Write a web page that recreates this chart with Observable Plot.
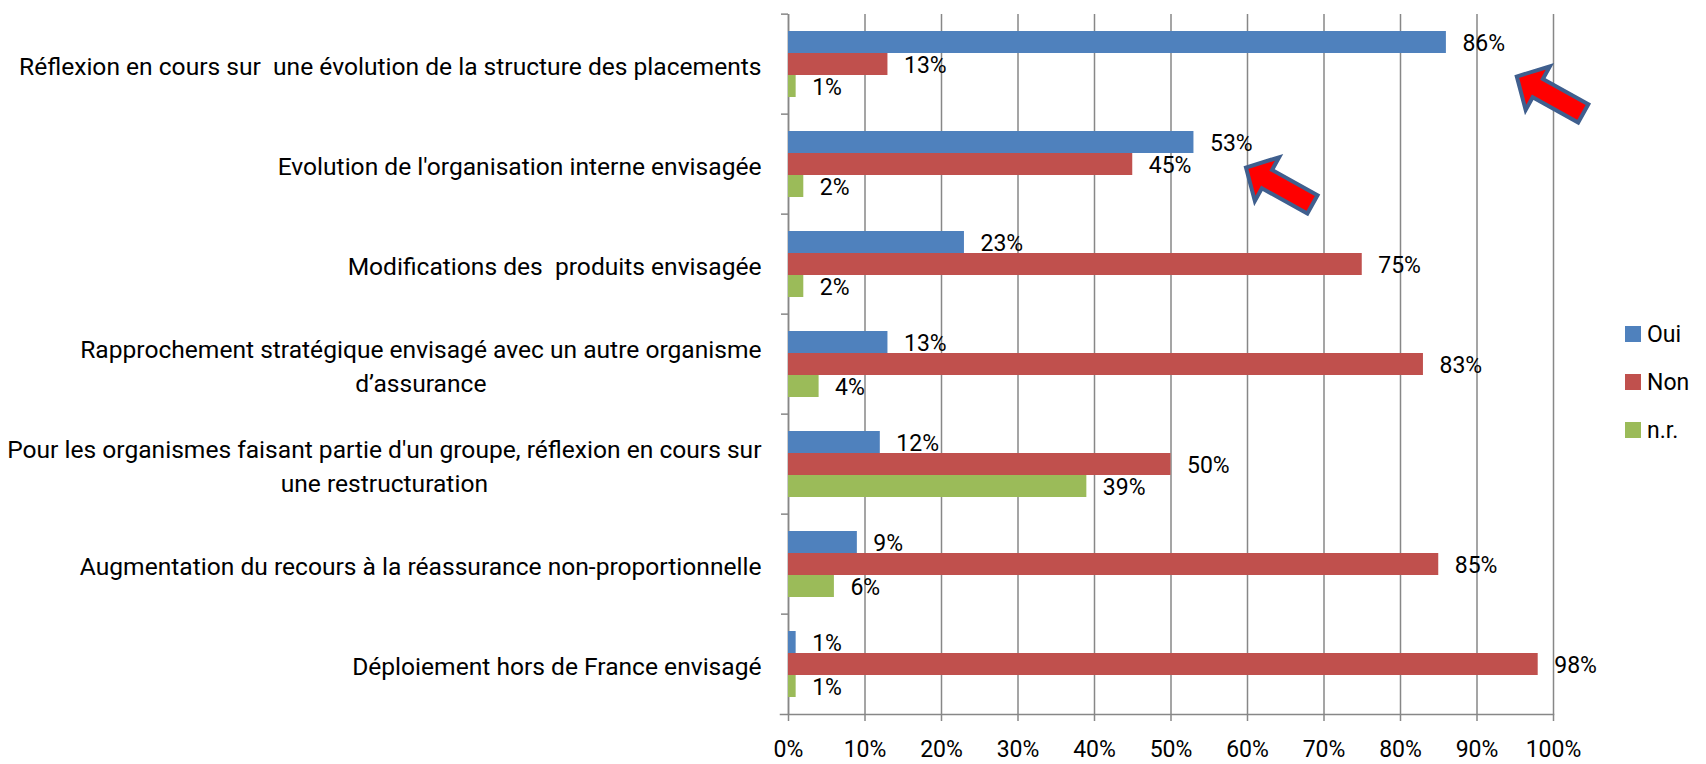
<!DOCTYPE html>
<html><head><meta charset="utf-8">
<script src="https://cdn.jsdelivr.net/npm/d3@7"></script>
<script src="https://cdn.jsdelivr.net/npm/@observablehq/plot@0.6"></script>
<style>
html,body{margin:0;padding:0;background:#fff;}
#wrap{position:relative;width:1706px;height:764px;overflow:hidden;}
#legend{position:absolute;left:1625px;top:310px;color:#000;}
.item{display:flex;align-items:center;height:48px;}
.sw{width:16px;height:16px;margin-right:6px;flex:none;}
</style></head><body><div id="wrap"><div id="legend"></div></div>
<script>
// ---- data ----
const categories = [
  "Réflexion en cours sur  une évolution de la structure des placements",
  "Evolution de l'organisation interne envisagée",
  "Modifications des  produits envisagée",
  "Rapprochement stratégique envisagé avec un autre organisme d’assurance",
  "Pour les organismes faisant partie d'un groupe, réflexion en cours sur une restructuration",
  "Augmentation du recours à la réassurance non-proportionnelle",
  "Déploiement hors de France envisagé"
];
const categoryLabels = [
  "Réflexion en cours sur  une évolution de la structure des placements",
  "Evolution de l'organisation interne envisagée",
  "Modifications des  produits envisagée",
  "Rapprochement stratégique envisagé avec un autre organisme\nd’assurance",
  "Pour les organismes faisant partie d'un groupe, réflexion en cours sur\nune restructuration",
  "Augmentation du recours à la réassurance non-proportionnelle",
  "Déploiement hors de France envisagé"
];
const series = ["Oui", "Non", "n.r."];
const oui = [86, 53, 23, 13, 12, 9, 1];
const non = [13, 45, 75, 83, 50, 85, 98];
const nr  = [1, 2, 2, 4, 39, 6, 1];
const colors = ["#4F81BD", "#C0504D", "#9BBB59"];
const xTicks = [0, 10, 20, 30, 40, 50, 60, 70, 80, 90, 100];
const arrowCategories = [categories[0], categories[1]];
const arrowSeries = ["n.r.", "Non"];
const arrowX = [95.2, 59.8];
const arrowDy = [-10, 3];

const values = [oui, non, nr];
const data = categories.flatMap((c, i) => series.map((s, j) => ({category: c, series: s, value: values[j][i]})));

// ---- font selection ----
const ctx = document.createElement("canvas").getContext("2d");
function measure(font, text) { ctx.font = font; return ctx.measureText(text).width; }
const probe = "abcdefghijklmnopqrstuvwxyz";
const hasNarrow = measure("40px 'Liberation Sans Narrow', monospace", probe) !== measure("40px monospace", probe);
const FONT = hasNarrow ? "'Liberation Sans Narrow', 'Liberation Sans', sans-serif" : "Roboto, 'Open Sans', sans-serif";

// measure the longest category label as SVG text to fit it to the reference width
const NS = "http://www.w3.org/2000/svg";
const tmp = document.createElementNS(NS, "svg");
tmp.setAttribute("width", 10); tmp.setAttribute("height", 10);
const tt = document.createElementNS(NS, "text");
tt.setAttribute("font-family", FONT); tt.setAttribute("font-size", 24);
tt.textContent = categoryLabels[0];
tmp.append(tt); document.body.append(tmp);
const wLong = tt.getComputedTextLength();
tmp.remove();
const fs = Math.min(26, 24 * 737 / wLong);
const fsSmall = 23;

// ---- chart ----
const W = 1706, H = 764, mL = 788, mR = 153, mT = 11, mB = 48;
const step = (H - mT - mB) / categories.length;
const grey = "#878787";

const blockArrow = {
  draw(c, l) {
    const hL = 24, hw = 25, w = 10.5;
    c.moveTo(0, 0);
    c.lineTo(hw, -hL);
    c.lineTo(w, -hL);
    c.lineTo(w, -l);
    c.lineTo(-w, -l);
    c.lineTo(-w, -hL);
    c.lineTo(-hw, -hL);
    c.closePath();
  }
};

const arrowMarks = arrowCategories.map((cat, k) =>
  Plot.vector([{category: cat, series: arrowSeries[k], x: arrowX[k]}], {
    x: "x", y: "series", fy: "category", dy: arrowDy[k],
    rotate: 119, length: 76, anchor: "start", shape: blockArrow,
    fill: "#FF0000", stroke: "#3F5F8E", strokeWidth: 4, strokeLinejoin: "miter"
  })
);

const chart = Plot.plot({
  width: W, height: H,
  marginLeft: mL, marginRight: mR, marginTop: mT, marginBottom: mB,
  style: {fontFamily: FONT, fontSize: fs + "px", color: "#000", background: "#fff"},
  x: {domain: [0, 100]},
  y: {domain: series, paddingInner: 0, paddingOuter: 0.75, axis: null},
  fy: {domain: categories, padding: 0, label: null},
  color: {domain: series, range: colors},
  marks: [
    Plot.gridX(xTicks, {stroke: grey, strokeOpacity: 1, strokeWidth: 1.5}),
    Plot.ruleX([0], {stroke: grey, strokeWidth: 1.5}),
    Plot.frame({anchor: "bottom", facetAnchor: "bottom", stroke: grey, strokeWidth: 1.5, insetLeft: -8}),
    Plot.axisX({ticks: xTicks, tickFormat: d => d + "%", tickSize: 7, tickPadding: 19, stroke: grey, strokeWidth: 1.5, label: null, fontSize: fsSmall}),
    Plot.axisFy({anchor: "left", tickSize: 0, tickPadding: 27, tickFormat: d => categoryLabels[categories.indexOf(d)], lineHeight: 34 / fs, label: null}),
    Plot.axisFy({anchor: "left", tickSize: 7, tickFormat: () => "", dy: -step / 2, stroke: grey, strokeWidth: 1.5, label: null}),
    Plot.barX(data, {x: "value", y: "series", fy: "category", fill: "series"}),
    Plot.text(data, {x: "value", y: "series", fy: "category", text: d => d.value + "%", dx: 16, dy: 1, textAnchor: "start", fill: "#000", fontSize: fsSmall}),
    ...arrowMarks
  ]
});

const wrap = document.getElementById("wrap");
wrap.prepend(chart);

// centre multi-line category labels on their longest line
chart.querySelectorAll('g[aria-label="fy-axis tick label"] text').forEach(t => {
  const spans = [...t.querySelectorAll("tspan")];
  if (spans.length < 2) return;
  const ws = spans.map(s => s.getComputedTextLength());
  const m = Math.max(...ws);
  spans.forEach((s, k) => s.setAttribute("dx", -(m - ws[k]) / 2));
});

// legend
const legend = document.getElementById("legend");
legend.style.fontFamily = FONT;
legend.style.fontSize = fsSmall + "px";
series.forEach((s, i) => {
  const item = document.createElement("div");
  item.className = "item";
  const sw = document.createElement("div");
  sw.className = "sw";
  sw.style.background = colors[i];
  const lab = document.createElement("span");
  lab.textContent = s;
  item.append(sw, lab);
  legend.append(item);
});
</script>
</body></html>
